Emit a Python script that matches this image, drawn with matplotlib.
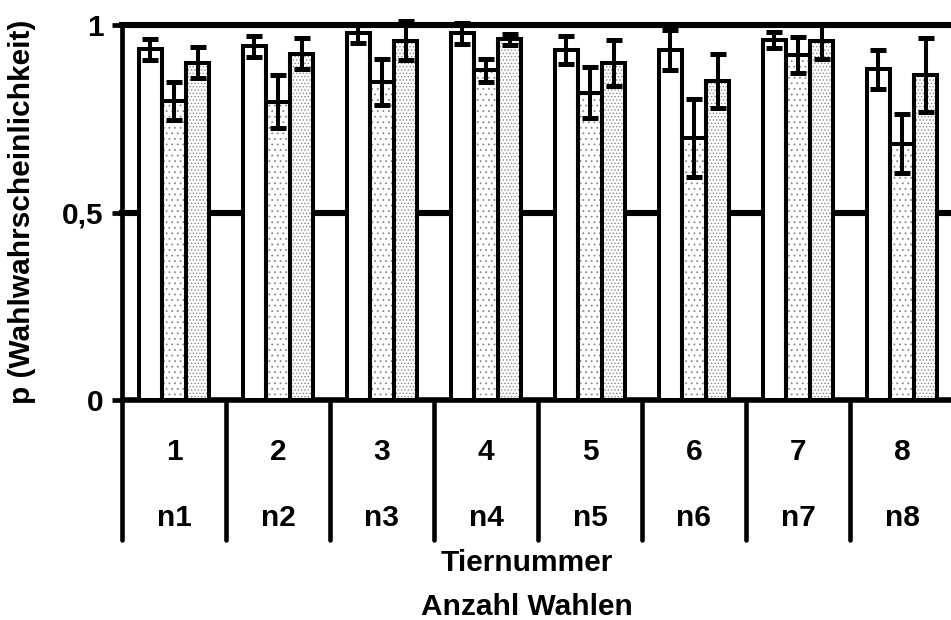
import matplotlib
matplotlib.use("Agg")
import matplotlib.pyplot as plt
import numpy as np

plt.rcParams['font.family'] = ['Liberation Sans', 'DejaVu Sans']
plt.rcParams['font.weight'] = 'bold'
plt.rcParams['hatch.linewidth'] = 0.6

tiere = ["1", "2", "3", "4", "5", "6", "7", "8"]
wahlen = ["n1", "n2", "n3", "n4", "n5", "n6", "n7", "n8"]

series_a = [0.935, 0.944, 0.978, 0.978, 0.933, 0.933, 0.960, 0.882]
err_a = [0.027, 0.028, 0.025, 0.028, 0.037, 0.053, 0.022, 0.052]
series_b = [0.798, 0.795, 0.848, 0.879, 0.820, 0.699, 0.920, 0.683]
err_b = [0.051, 0.071, 0.061, 0.030, 0.069, 0.103, 0.049, 0.079]
series_c = [0.900, 0.924, 0.958, 0.962, 0.898, 0.850, 0.957, 0.867]
err_c = [0.041, 0.040, 0.052, 0.015, 0.062, 0.072, 0.047, 0.099]

yticks = [0, 0.5, 1]
yticklabels = ["0", "0,5", "1"]

FS = 21.5

W, H = 951, 620
fig = plt.figure(figsize=(W / 100, H / 100), dpi=100)
left, right, top, bottom = 122, 954, 25, 400
ax = fig.add_axes([left / W, (H - bottom) / H, (right - left) / W, (bottom - top) / H])

x = np.arange(1, len(tiere) + 1)
bw = 0.226
lw = 2.9
series = [(series_a, err_a, None, x - bw),
          (series_b, err_b, '...', x),
          (series_c, err_c, '.....', x + bw)]

for vals, errs, hatch, pos in series:
    if hatch:
        ax.bar(pos, vals, bw, color='white', edgecolor='#8a8a8a', hatch=hatch,
               linewidth=0, zorder=3)
    ax.bar(pos, vals, bw, facecolor='none' if hatch else 'white',
           edgecolor='black', linewidth=lw, zorder=4)
    ax.errorbar(pos, vals, yerr=errs, fmt='none', ecolor='black',
                elinewidth=2.9, capsize=5.5, capthick=3.6, zorder=5, clip_on=False)

ax.set_xlim(0.5, len(tiere) + 0.5)
ax.set_ylim(0, 1)
ax.set_yticks(yticks)
ax.set_yticklabels(yticklabels, fontsize=FS, fontweight='bold')
ax.set_xticks([])
ax.tick_params(axis='y', direction='out', length=7, width=3.4, pad=6)

for s in ['top', 'right']:
    ax.spines[s].set_visible(False)
ax.spines['left'].set_linewidth(3.4)
ax.spines['bottom'].set_linewidth(4.0)
ax.spines['bottom'].set_capstyle('round')

for yv in [0.5, 1.0]:
    ax.axhline(yv, color='black', linewidth=4.4, zorder=1, clip_on=False)

# table below axis
row_h = 1.0 / 375.0
bottom_line = -(540 - 400) * row_h
for k in range(len(tiere) + 1):
    ax.plot([0.5 + k, 0.5 + k], [0, bottom_line], color='black', linewidth=3.3,
            solid_capstyle='round', clip_on=False, zorder=6)

for xi, t, n in zip(x, tiere, wahlen):
    ax.text(xi, -(452 - 400) * row_h, t, ha='center', va='center',
            fontsize=FS, fontweight='bold', clip_on=False)
    ax.text(xi, -(518 - 400) * row_h, n, ha='center', va='center',
            fontsize=FS, fontweight='bold', clip_on=False)

fig.text(527 / W, 1 - 563 / H, "Tiernummer", ha='center', va='center',
         fontsize=FS, fontweight='bold')
fig.text(527 / W, 1 - 607 / H, "Anzahl Wahlen", ha='center', va='center',
         fontsize=FS, fontweight='bold')
fig.text(22 / W, 1 - 212 / H, "p (Wahlwahrscheinlichkeit)", ha='center', va='center',
         rotation=90, fontsize=FS, fontweight='bold')

fig.savefig("out.png", dpi=100)
